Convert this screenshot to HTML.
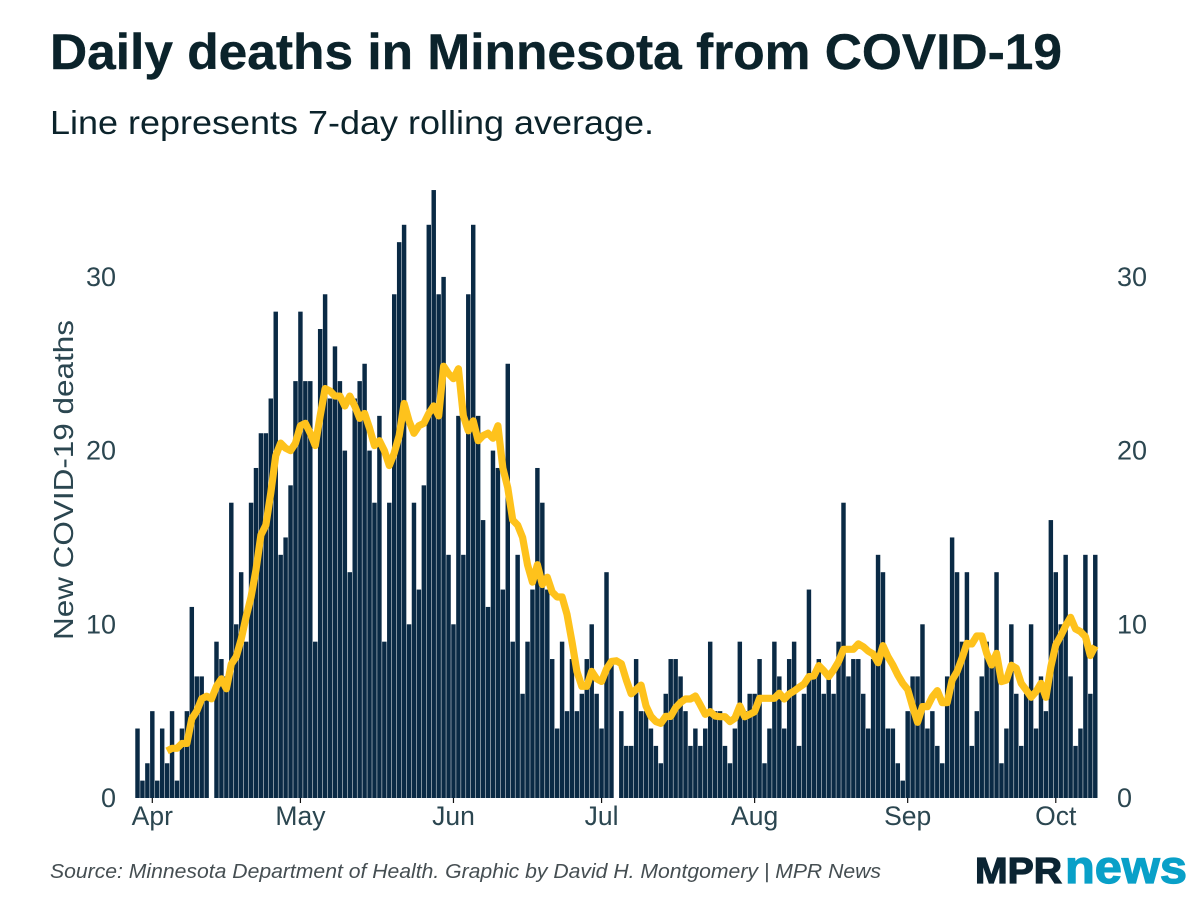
<!DOCTYPE html>
<html lang="en">
<head>
<meta charset="utf-8">
<title>Daily deaths in Minnesota from COVID-19</title>
<style>
  html, body { margin: 0; padding: 0; background: #ffffff; }
  #stage { display: block; width: 1200px; height: 900px; }
  text { font-family: "Liberation Sans", sans-serif; }
</style>
</head>
<body>
<svg id="stage" xmlns="http://www.w3.org/2000/svg" width="1200" height="900" viewBox="0 0 1200 900">
  <rect x="0" y="0" width="1200" height="900" fill="#ffffff"/>
  <text x="50" y="69" font-size="50" font-weight="700" fill="#0b232b" stroke="#0b232b" stroke-width="0.4" textLength="1012" lengthAdjust="spacingAndGlyphs">Daily deaths in Minnesota from COVID-19</text>
  <text x="50" y="134" font-size="33" fill="#0b232b" textLength="604" lengthAdjust="spacingAndGlyphs">Line represents 7-day rolling average.</text>
  <text transform="translate(73 640) rotate(-90)" font-size="28" fill="#2b4650" textLength="320" lengthAdjust="spacingAndGlyphs">New COVID-19 deaths</text>
  <g id="bars"></g>
  <g id="ticks"></g>
  <g id="xlabels"></g>
  <g id="ylabels-left"></g>
  <g id="ylabels-right"></g>
  <path id="avg-line" fill="none" stroke="#fec21c" stroke-width="7.2" stroke-linejoin="round" stroke-linecap="butt"/>
  <text x="50" y="878" font-size="20" font-style="italic" fill="#454e52" textLength="831" lengthAdjust="spacingAndGlyphs">Source: Minnesota Department of Health. Graphic by David H. Montgomery | MPR News</text>
  <g>
    <text x="975" y="883" font-size="36.5" font-weight="700" fill="#0b2433" stroke="#0b2433" stroke-width="1.2" textLength="87" lengthAdjust="spacingAndGlyphs">MPR</text>
    <text x="1065" y="883" font-size="46" font-weight="700" fill="#09a0c8" stroke="#09a0c8" stroke-width="1.2" textLength="122" lengthAdjust="spacingAndGlyphs">news</text>
  </g>
</svg>
<script>
// Daily new deaths, one value per day beginning Mar 29 (0 = no reported bar).
var dailyDeaths = [
  4,1,2,5,1,4,2,5,1,4,5,11,7,7,6,0,9,8,7,17,10,13,9,17,19,21,21,23,28,14,
  15,18,24,28,24,24,9,27,29,23,26,24,20,13,23,24,25,20,17,22,9,17,29,32,33,10,17,12,18,33,
  35,29,30,14,10,22,14,29,33,22,16,11,20,19,12,25,9,14,6,9,12,19,17,12,8,4,9,5,8,5,
  6,8,10,6,4,13,8,0,5,3,3,8,5,5,4,3,2,6,8,8,7,5,3,4,3,4,9,5,5,3,
  2,4,9,5,6,6,8,2,4,9,7,4,8,9,3,6,12,7,8,6,7,6,9,17,7,8,8,6,4,8,
  14,13,4,4,2,1,5,7,7,10,4,5,3,2,7,15,13,9,13,3,5,7,9,8,13,2,4,10,6,3,
  6,10,4,7,5,16,13,10,14,7,3,4,14,6,14
];
// 7-day rolling average, one value per day beginning with the seventh day.
var rollingAverage = [
  2.71,2.86,2.86,3.14,3.14,4.57,5.0,5.71,5.86,5.71,6.43,6.86,6.29,7.71,8.14,9.14,10.43,11.57,13.14,15.14,
  15.71,17.57,19.71,20.43,20.14,20.0,20.43,21.43,21.57,21.0,20.29,22.0,23.57,23.43,23.14,23.14,22.57,23.14,22.57,21.86,
  22.14,21.29,20.29,20.57,20.0,19.14,19.86,20.86,22.71,21.71,21.0,21.43,21.57,22.14,22.57,22.0,24.86,24.43,24.14,24.71,
  22.0,21.14,21.71,20.57,20.86,21.0,20.71,21.43,19.0,17.86,16.0,15.71,15.0,13.43,12.43,13.43,12.29,12.71,11.86,11.57,
  11.57,10.57,9.0,7.29,6.43,6.43,7.29,6.86,6.71,7.43,7.86,7.9,7.73,6.8,6.0,6.25,6.5,5.3,4.7,4.4,
  4.3,4.7,4.7,5.2,5.5,5.7,5.7,5.87,5.36,4.82,4.97,4.72,4.68,4.68,4.4,4.59,5.3,4.68,4.82,4.97,
  5.74,5.74,5.74,5.74,6.03,5.7,5.99,6.16,6.37,6.56,6.99,7.03,7.62,7.33,6.99,7.37,7.85,8.56,8.56,8.56,
  8.87,8.71,8.46,8.29,7.79,8.77,8.14,7.66,7.08,6.6,6.25,5.26,4.36,5.26,5.26,5.83,6.18,5.49,5.49,6.79,
  7.27,8.04,8.9,8.87,9.33,9.33,8.33,7.66,8.33,6.7,6.79,7.64,7.47,6.6,6.22,5.8,6.12,6.6,5.8,7.56,
  8.81,9.33,9.92,10.4,9.73,9.58,9.29,8.2,8.75
];
var rollingStartDay = 6;
var monthLabels = ["Apr","May","Jun","Jul","Aug","Sep","Oct"];
var monthStartDays = [3,33,64,94,125,156,186];
var yTickValues = [0,10,20,30];

var SVG_NS = "http://www.w3.org/2000/svg";
var dayStep = 4.937, firstDayX = 137.5, barWidth = 4.45;
var baseY = 798, unitY = 17.37;
function xScale(day) { return firstDayX + day * dayStep; }
function yScale(value) { return baseY - value * unitY; }

var barsGroup = document.getElementById("bars");
dailyDeaths.forEach(function (value, day) {
  if (!value) return;
  var bar = document.createElementNS(SVG_NS, "rect");
  
  
  bar.setAttribute("x", (xScale(day) - barWidth / 2).toFixed(2));
  bar.setAttribute("y", yScale(value).toFixed(2));
  bar.setAttribute("width", barWidth);
  bar.setAttribute("height", (baseY - yScale(value)).toFixed(2));
  bar.setAttribute("fill", "#0a2a45");
  barsGroup.appendChild(bar);
});

var tickGroup = document.getElementById("ticks");
var xLabelGroup = document.getElementById("xlabels");
monthLabels.forEach(function (label, i) {
  var x = xScale(monthStartDays[i]);
  var tick = document.createElementNS(SVG_NS, "line");
  
  
  tick.setAttribute("x1", x);
  tick.setAttribute("x2", x);
  tick.setAttribute("y1", baseY);
  tick.setAttribute("y2", baseY + 5);
  tick.setAttribute("stroke", "#111111");
  tick.setAttribute("stroke-width", "1.2");
  tickGroup.appendChild(tick);
  var text = document.createElementNS(SVG_NS, "text");
  
  
  text.setAttribute("x", x);
  text.setAttribute("y", baseY + 27);
  text.setAttribute("text-anchor", "middle");
  text.setAttribute("font-size", "26.5");
  text.setAttribute("fill", "#2b4650");
  text.textContent = label;
  xLabelGroup.appendChild(text);
});

var leftGroup = document.getElementById("ylabels-left");
var rightGroup = document.getElementById("ylabels-right");
yTickValues.forEach(function (value) {
  var left = document.createElementNS(SVG_NS, "text");
  
  
  left.setAttribute("x", 116);
  left.setAttribute("y", yScale(value) + 9);
  left.setAttribute("text-anchor", "end");
  left.setAttribute("font-size", "27");
  left.setAttribute("fill", "#2b4650");
  left.textContent = value;
  leftGroup.appendChild(left);
  var right = document.createElementNS(SVG_NS, "text");
  
  
  right.setAttribute("x", 1117);
  right.setAttribute("y", yScale(value) + 9);
  right.setAttribute("font-size", "27");
  right.setAttribute("fill", "#2b4650");
  right.textContent = value;
  rightGroup.appendChild(right);
});

var linePath = rollingAverage.map(function (value, i) {
  return (i ? "L" : "M") + xScale(rollingStartDay + i).toFixed(2) + " " + yScale(value).toFixed(2);
}).join(" ");
document.getElementById("avg-line").setAttribute("d", linePath);
</script>
</body>
</html>
